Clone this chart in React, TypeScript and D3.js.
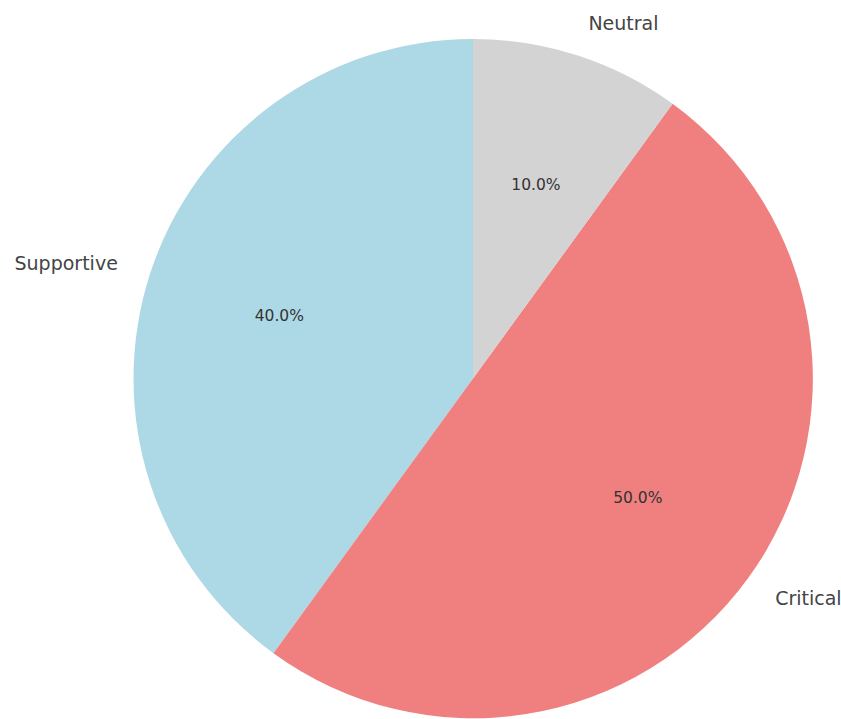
import * as d3 from 'd3';

const categories = ['Supportive', 'Critical', 'Neutral'];
const values = [40, 50, 10];
const colors = ['#add8e6', '#f08080', '#d3d3d3'];

const width = 841;
const height = 719;
const cx = 473;
const cy = 378.5;
const radius = 339.5;

export default function App() {
  const pie = d3
    .pie<number>()
    .sort(null)
    .startAngle(0)
    .endAngle(-2 * Math.PI)
    .value((d) => d);
  const arcs = pie(values);
  const arc = d3.arc<d3.PieArcDatum<number>>().innerRadius(0).outerRadius(radius);
  const total = d3.sum(values);

  return (
    <svg
      width={width}
      height={height}
      style={{ position: 'absolute', left: 0, top: 0, background: '#fff' }}
      fontFamily="DejaVu Sans, sans-serif"
    >
      <g transform={`translate(${cx},${cy})`}>
        {arcs.map((a, i) => (
          <path key={categories[i]} d={arc(a) ?? ''} fill={colors[i]} />
        ))}
        {arcs.map((a, i) => {
          const mid = (a.startAngle + a.endAngle) / 2;
          const lx = Math.sin(mid) * radius * 1.1;
          const ly = -Math.cos(mid) * radius * 1.1;
          const px = Math.sin(mid) * radius * 0.6;
          const py = -Math.cos(mid) * radius * 0.6;
          return (
            <g key={'t' + categories[i]}>
              <text
                x={lx}
                y={ly}
                fontSize={19}
                fill="#444"
                textAnchor={lx > 0 ? 'start' : 'end'}
                dominantBaseline="central"
              >
                {categories[i]}
              </text>
              <text
                x={px}
                y={py}
                fontSize={15.5}
                fill="#333"
                textAnchor="middle"
                dominantBaseline="central"
              >
                {((values[i] / total) * 100).toFixed(1)}%
              </text>
            </g>
          );
        })}
      </g>
    </svg>
  );
}
